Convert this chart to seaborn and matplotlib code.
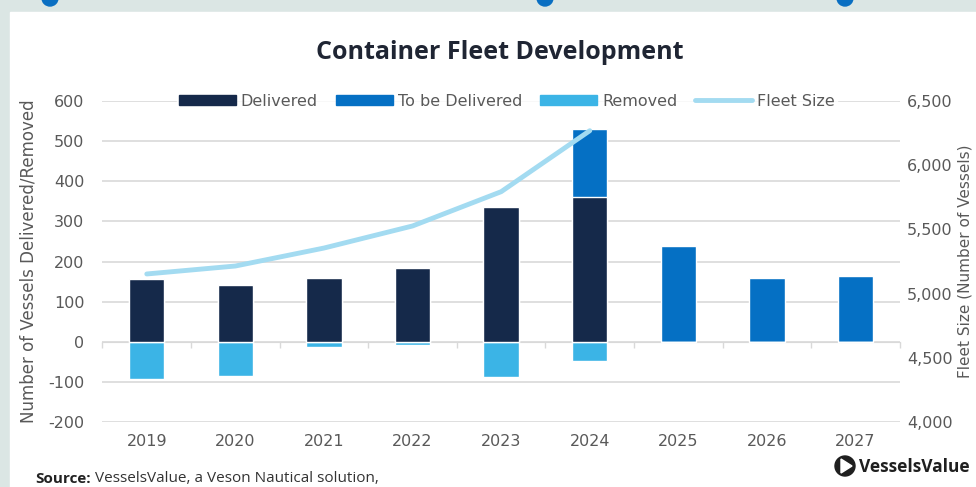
import matplotlib.pyplot as plt
import matplotlib.patches as mpatches
from matplotlib.lines import Line2D
import numpy as np
import seaborn as sns

years = ["2019", "2020", "2021", "2022", "2023", "2024", "2025", "2026", "2027"]
delivered = [157, 141, 159, 185, 336, 362, 0, 0, 0]
to_be_delivered = [0, 0, 0, 0, 0, 168, 238, 159, 165]
removed = [-92, -85, -12, -7, -88, -47, 0, 0, 0]
fleet_years = ["2019", "2020", "2021", "2022", "2023", "2024"]
fleet_size = [5153, 5215, 5355, 5527, 5794, 6269]

c_deliv = "#15294a"
c_tbd = "#0570c4"
c_rem = "#3bb4e6"
c_fleet = "#a3dbf1"
txt = "#595959"

sns.set_style("white")
plt.rcParams["font.family"] = ["DejaVu Sans"]
plt.rcParams["axes.unicode_minus"] = False

fig = plt.figure(figsize=(9.76, 4.87), dpi=100)
fig.patch.set_facecolor("#dbe6e4")

# background panel
bg = fig.add_axes([0, 0, 1, 1], zorder=-5)
bg.set_xlim(0, 976)
bg.set_ylim(487, 0)
bg.axis("off")
bg.add_patch(mpatches.Rectangle((10, 12), 970, 480, color="white"))
for cx in [50, 545, 845]:
    bg.add_patch(mpatches.Circle((cx, -2), 8, color="#0a6fc2"))

ax = fig.add_axes([0.105, 0.1335, 0.817, 0.659])
ax.patch.set_alpha(0)

tot = [d + t for d, t in zip(delivered, to_be_delivered)]
sns.barplot(x=years, y=tot, color=c_tbd, width=0.4, saturation=1, ax=ax, zorder=3)
sns.barplot(x=years, y=delivered, color=c_deliv, width=0.4, saturation=1, ax=ax, zorder=4)
sns.barplot(x=years, y=removed, color=c_rem, width=0.4, saturation=1, ax=ax, zorder=3)

ax.set_xlim(-0.5, 8.5)
ax.set_ylim(-200, 600)
ax.set_yticks(range(-200, 601, 100))
ax.grid(axis="y", color="#d9d9d9", linewidth=1.2, zorder=0)
ax.set_axisbelow(True)
for s in ax.spines.values():
    s.set_visible(False)
ax.tick_params(axis="both", length=0, labelsize=11.5, labelcolor=txt)
ax.tick_params(axis="y", pad=13)
ax.tick_params(axis="x", pad=9)
ax.set_xlabel("")
ax.set_ylabel("Number of Vessels Delivered/Removed", fontsize=12, color=txt, labelpad=8)

# category ticks on the zero line
sec = ax.secondary_xaxis(0.25)
sec.set_xticks(np.arange(-0.5, 9, 1))
sec.set_xticklabels([])
sec.tick_params(length=4, color="#d9d9d9", width=1)
sec.spines["bottom"].set_color("#d9d9d9")

ax2 = ax.twinx()
sns.lineplot(x=np.arange(len(fleet_years)), y=fleet_size, color=c_fleet, linewidth=3.5, ax=ax2, zorder=5)
ax2.set_ylim(4000, 6500)
ax2.set_yticks(range(4000, 6501, 500))
ax2.set_yticklabels([f"{v:,}" for v in range(4000, 6501, 500)])
for s in ax2.spines.values():
    s.set_visible(False)
ax2.tick_params(axis="y", length=0, labelsize=11.5, labelcolor=txt, pad=5)
ax2.set_ylabel("Fleet Size (Number of Vessels)", fontsize=11, color=txt, labelpad=4)

handles = [
    mpatches.Patch(color=c_deliv, label="Delivered"),
    mpatches.Patch(color=c_tbd, label="To be Delivered"),
    mpatches.Patch(color=c_rem, label="Removed"),
    Line2D([0], [0], color=c_fleet, linewidth=3.5, label="Fleet Size"),
]
leg = ax2.legend(handles=handles, loc="center", bbox_to_anchor=(0.507, 1.0), ncol=4,
                 frameon=True, fontsize=11.5, handlelength=3.6, handleheight=0.6,
                 columnspacing=1.1, handletextpad=0.3, borderpad=0.1)
leg.get_frame().set_facecolor("white")
leg.get_frame().set_edgecolor("white")
for t in leg.get_texts():
    t.set_color(txt)

fig.text(0.512, 0.892, "Container Fleet Development", ha="center", va="center",
         fontsize=18, fontweight="bold", color="#1f2533", family=["Open Sans"])

src = fig.text(0.036, 0.008, "Source:", fontsize=11, fontweight="bold", color="#222222",
               family=["Open Sans"])
bg.annotate(" VesselsValue, a Veson Nautical solution,", xy=(1, 0), xycoords=src,
            va="bottom", ha="left", fontsize=11, color="#333333", family=["Open Sans"])

# logo
bg.add_patch(mpatches.Circle((845, 466), 10, color="#1f1f1f"))
bg.add_patch(mpatches.Polygon([[841, 459], [841, 473], [852, 466]], color="white"))
bg.text(859, 467, "VesselsValue", fontsize=12.5, fontweight="bold", color="#1f1f1f", va="center",
        family=["Open Sans"])

fig.savefig("out.png", dpi=100)
